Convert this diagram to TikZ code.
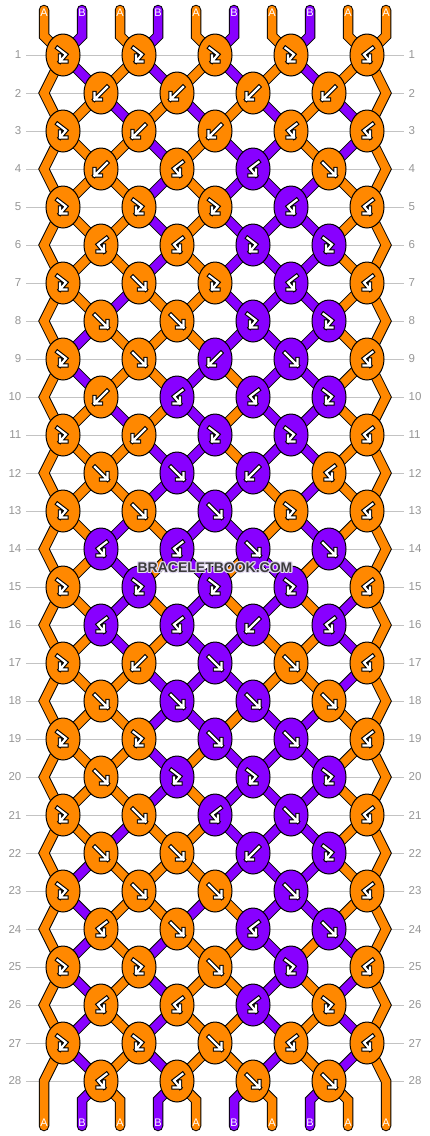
\documentclass[tikz,border=0pt]{standalone}
\usepackage{fontspec}
\setmainfont{Liberation Sans}
\usetikzlibrary{shapes.geometric}
\pgfdeclarelayer{bg}
\pgfdeclarelayer{strings}
\pgfsetlayers{bg,strings,main}
\definecolor{cA}{RGB}{255,136,0}
\definecolor{cB}{RGB}{136,0,255}
\colorlet{kO}{cA}
\colorlet{kP}{cB}
\definecolor{gridgray}{RGB}{195,195,195}
\definecolor{labgray}{RGB}{150,150,150}
\definecolor{wmtext}{RGB}{60,60,60}
\definecolor{wmhalo}{RGB}{226,218,240}
\newcommand\defst[2]{\expandafter\def\csname st#1\endcsname{#2}}
\newcommand\defkn[2]{\expandafter\def\csname kn#1\endcsname{#2}}
% string colours after each row
\defst{0}{A,B,A,B,A,B,A,B,A,A}
\defst{1}{A,B,A,B,A,B,A,B,A,A}
\defst{2}{A,A,B,A,B,A,B,A,B,A}
\defst{3}{A,A,A,B,A,B,B,A,B,A}
\defst{4}{A,A,A,B,A,B,B,B,A,A}
\defst{5}{A,A,A,B,A,B,B,B,A,A}
\defst{6}{A,A,A,B,A,B,B,B,A,A}
\defst{7}{A,A,B,A,A,B,B,B,A,A}
\defst{8}{A,B,A,A,A,B,B,B,A,A}
\defst{9}{A,B,A,A,B,A,B,B,A,A}
\defst{10}{A,A,B,A,B,A,B,B,A,A}
\defst{11}{A,A,A,B,B,A,B,B,A,A}
\defst{12}{A,A,A,B,B,B,A,B,A,A}
\defst{13}{A,A,B,A,B,B,A,B,A,A}
\defst{14}{A,A,B,A,B,A,B,A,B,A}
\defst{15}{A,A,B,A,B,A,B,A,B,A}
\defst{16}{A,A,B,A,B,B,A,A,B,A}
\defst{17}{A,A,A,B,B,B,A,A,B,A}
\defst{18}{A,A,A,B,B,A,B,B,A,A}
\defst{19}{A,A,A,B,A,B,B,B,A,A}
\defst{20}{A,A,A,B,A,B,B,B,A,A}
\defst{21}{A,A,B,A,A,B,B,B,A,A}
\defst{22}{A,B,A,A,A,B,B,B,A,A}
\defst{23}{A,B,A,A,B,A,B,B,A,A}
\defst{24}{A,B,A,B,A,A,B,A,B,A}
\defst{25}{A,B,A,B,A,A,B,A,B,A}
\defst{26}{A,B,A,B,A,A,B,A,B,A}
\defst{27}{A,B,A,B,A,A,B,A,B,A}
\defst{28}{A,B,A,B,A,B,A,B,A,A}
% knots: type/colour
\defkn{1}{FB/O,FB/O,FB/O,FB/O,BF/O}
\defkn{2}{B/O,B/O,B/O,B/O}
\defkn{3}{FB/O,B/O,B/O,BF/O,BF/O}
\defkn{4}{B/O,BF/O,BF/P,F/O}
\defkn{5}{FB/O,FB/O,FB/O,BF/P,BF/O}
\defkn{6}{BF/O,BF/O,FB/P,FB/P}
\defkn{7}{FB/O,F/O,FB/O,BF/P,BF/O}
\defkn{8}{F/O,F/O,FB/P,FB/P}
\defkn{9}{FB/O,F/O,B/P,F/P,BF/O}
\defkn{10}{B/O,BF/P,BF/P,FB/P}
\defkn{11}{FB/O,B/O,FB/P,FB/P,BF/O}
\defkn{12}{F/O,F/P,B/P,BF/O}
\defkn{13}{FB/O,F/O,F/P,FB/O,BF/O}
\defkn{14}{BF/P,BF/P,F/P,F/P}
\defkn{15}{FB/O,FB/P,FB/P,FB/P,BF/O}
\defkn{16}{BF/P,BF/P,B/P,BF/P}
\defkn{17}{FB/O,B/O,F/P,F/O,BF/O}
\defkn{18}{F/O,F/P,F/P,F/O}
\defkn{19}{FB/O,FB/O,F/P,F/P,BF/O}
\defkn{20}{F/O,FB/P,FB/P,FB/P}
\defkn{21}{FB/O,F/O,BF/P,F/P,BF/O}
\defkn{22}{F/O,F/O,B/P,FB/P}
\defkn{23}{FB/O,F/O,F/O,F/P,BF/O}
\defkn{24}{BF/O,F/O,BF/P,F/P}
\defkn{25}{FB/O,FB/O,F/O,FB/P,BF/O}
\defkn{26}{BF/O,BF/O,BF/P,FB/O}
\defkn{27}{FB/O,FB/O,F/O,BF/O,BF/O}
\defkn{28}{BF/O,BF/O,F/O,F/O}
\tikzset{
 knot/.style={ellipse, draw=black, line width=1pt, minimum width=34pt, minimum height=42pt, inner sep=0pt},
 gout/.style={black, line width=4.4pt, line cap=rect, line join=miter},
 gin/.style={white, line width=2.2pt, line cap=rect, line join=miter},
 gridline/.style={gridgray, line width=1pt},
 rowlab/.style={text=labgray, font=\fontsize{11.5}{12}\selectfont, inner sep=0pt},
 strlab/.style={text=white, font=\fontsize{11}{11}\selectfont, inner sep=0pt},
 strout/.style={black, line width=10.5pt, line cap=round, line join=miter},
 strin/.style={line width=8.5pt, line cap=round, line join=miter},
 wm/.style={font=\fontsize{14}{14}\selectfont\bfseries, inner sep=0pt},
}
\newcommand\gpath[3]{\begin{scope}[shift={(#1,#2)}]\draw[gout] #3;\draw[gin] #3;\end{scope}}
\newcommand\glyphF[2]{\gpath{#1}{#2}{(-6,-6) -- (6.5,6.5) (6.5,0) -- (6.5,6.5) -- (0,6.5)}}
\newcommand\glyphB[2]{\gpath{#1}{#2}{(6,-6) -- (-6.5,6.5) (-6.5,0) -- (-6.5,6.5) -- (0,6.5)}}
\newcommand\glyphFB[2]{\gpath{#1}{#2}{(-5.5,-7) -- (3,-0.5) -- (-3,6.5) (-3,0.5) -- (-3,6.5) -- (3.5,6.5)}}
\newcommand\glyphBF[2]{\gpath{#1}{#2}{(5.5,-7) -- (-3,-0.5) -- (3,6.5) (3,0.5) -- (3,6.5) -- (-3.5,6.5)}}
\newcommand\drawstrings[1]{%
\foreach \rr in {0,...,28}{%
  \edef\st{\csname st\rr\endcsname}%
  \foreach \cc [count=\pp] in \st {%
    \ifnum#1=0 \tikzset{cur/.style={strout}}\else\tikzset{cur/.style={strin,draw=c\cc}}\fi
    \pgfmathtruncatemacro\xp{44+38*(\pp-1)}%
    \pgfmathtruncatemacro\yn{55+38*\rr}%
    \pgfmathtruncatemacro\rn{\rr+1}%
    \pgfmathtruncatemacro\rnn{\rr+2}%
    \pgfmathtruncatemacro\ha{\pp/2}%
    \pgfmathtruncatemacro\hb{(\pp+1)/2}%
    \ifnum\rr=0
      \draw[cur] (\xp,10) -- (\xp,36) -- (k-1-\hb.center);
    \else\ifnum\rr=28
      \ifnum\pp>1 \ifnum\pp<10 \draw[cur] (k-28-\ha.center) -- (\xp,1100) -- (\xp,1126); \fi\fi
    \else\ifodd\rr
      \ifnum\pp=1
        \ifnum\rr=27 \draw[cur] (k-27-1.center) -- (\xp,\yn) -- (\xp,1126);
        \else \draw[cur] (k-\rr-1.center) -- (\xp,\yn) -- (k-\rnn-1.center);\fi
      \else\ifnum\pp=10
        \ifnum\rr=27 \draw[cur] (k-27-5.center) -- (\xp,\yn) -- (\xp,1126);
        \else \draw[cur] (k-\rr-5.center) -- (\xp,\yn) -- (k-\rnn-5.center);\fi
      \else
        \ifodd\pp \draw[cur] (k-\rr-\hb.center) -- (k-\rn-\ha.center);
        \else \draw[cur] (k-\rr-\ha.center) -- (k-\rn-\ha.center);\fi
      \fi\fi
    \else
      \ifnum\pp>1 \ifnum\pp<10
        \ifodd\pp \draw[cur] (k-\rr-\ha.center) -- (k-\rn-\hb.center);
        \else \draw[cur] (k-\rr-\ha.center) -- (k-\rn-\ha.center);\fi
      \fi\fi
    \fi\fi\fi
  }}}
\begin{document}
\begin{tikzpicture}[x=1pt,y=-1pt]
\useasboundingbox (0,0) rectangle (430,1136);
\begin{pgfonlayer}{bg}
\fill[white] (0,0) rectangle (430,1136);
\foreach \rr in {1,...,28}{
  \pgfmathsetmacro\ky{55+38*(\rr-1)}
  \draw[gridline] (26,\ky) -- (404,\ky);
  \node[rowlab, anchor=east] (ln-\rr) at (21.5,\ky) {\rr};
  \node[rowlab, anchor=west] (rn-\rr) at (408.5,\ky) {\rr};
}
\end{pgfonlayer}
% knots
\foreach \rr in {1,...,28}{
  \edef\kl{\csname kn\rr\endcsname}
  \foreach \ty/\kc [count=\kk] in \kl {
    \ifodd\rr \pgfmathsetmacro\kx{63+76*(\kk-1)}\else\pgfmathsetmacro\kx{101+76*(\kk-1)}\fi
    \pgfmathsetmacro\ky{55+38*(\rr-1)}
    \node[knot, fill=k\kc] (k-\rr-\kk) at (\kx,\ky) {};
    \csname glyph\ty\endcsname{\kx}{\ky}
  }
}
\begin{pgfonlayer}{strings}
\drawstrings{0}
\drawstrings{1}
\end{pgfonlayer}
% string end labels
\edef\st{\csname st0\endcsname}
\foreach \cc [count=\pp] in \st {
  \pgfmathsetmacro\xp{44+38*(\pp-1)}
  \node[strlab] (t-\pp) at (\xp,12.5) {\cc};
}
\edef\st{\csname st28\endcsname}
\foreach \cc [count=\pp] in \st {
  \pgfmathsetmacro\xp{44+38*(\pp-1)}
  \node[strlab] (b-\pp) at (\xp,1123) {\cc};
}
% watermark
\foreach \dx/\dy [count=\i] in {-1.2/0,1.2/0,0/-1.2,0/1.2,-0.9/-0.9,0.9/-0.9,-0.9/0.9,0.9/0.9}{
  \pgfmathsetmacro\wx{215+\dx}
  \pgfmathsetmacro\wy{567.5+\dy}
  \node[wm, text=wmhalo] (wmh\i) at (\wx,\wy) {BRACELETBOOK.COM};
}
\node[wm, text=wmtext] (wm) at (215,567.5) {BRACELETBOOK.COM};
\end{tikzpicture}
\end{document}
